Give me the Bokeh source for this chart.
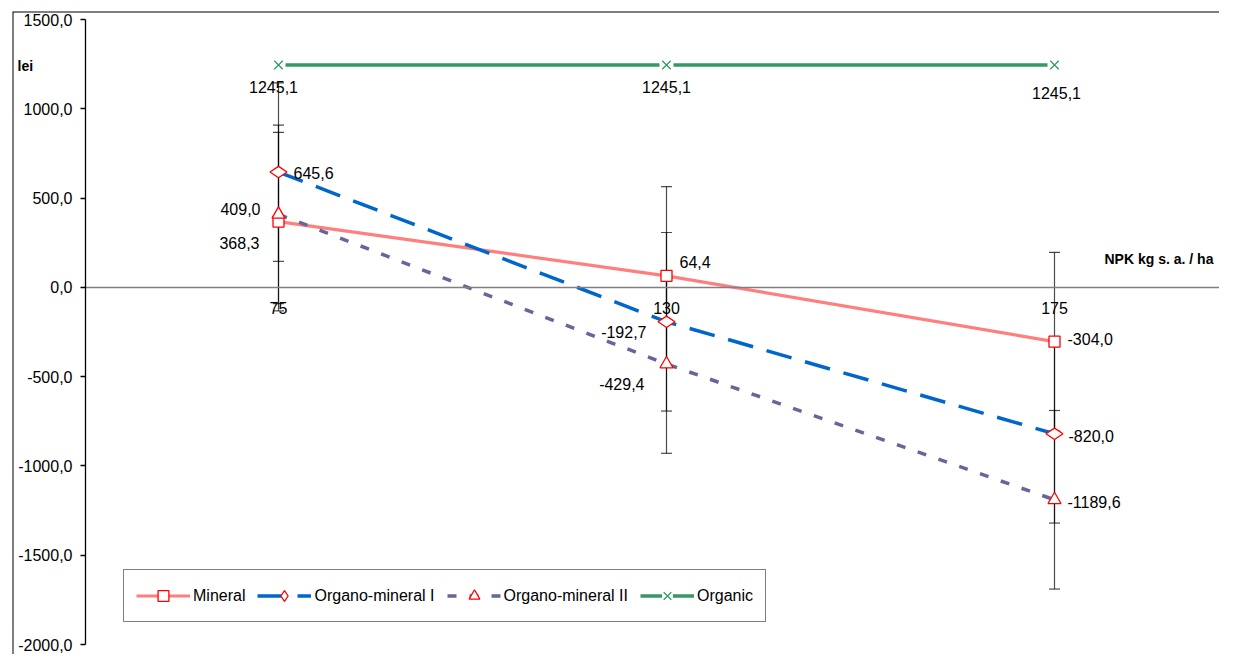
from bokeh.plotting import figure
from bokeh.models import (ColumnDataSource, Range1d, LinearAxis, FixedTicker, Span,
                          Legend, LegendItem, Whisker, TeeHead, Label)
from bokeh.core.properties import value
from bokeh.embed import file_html
from bokeh.resources import INLINE

# ---------------- data ----------------
categories = ["75", "130", "175"]
mineral = [368.3, 64.4, -304.0]
organo_mineral_1 = [645.6, -192.7, -820.0]
organo_mineral_2 = [409.0, -429.4, -1189.6]
organic = [1245.1, 1245.1, 1245.1]
error_mineral = [500.0, 500.0, 500.0]
error_om1 = [500.0, 500.0, 500.0]
error_om2 = [500.0, 500.0, 500.0]
y_ticks = [-2000, -1500, -1000, -500, 0, 500, 1000, 1500]
y_tick_labels = ["-2000,0", "-1500,0", "-1000,0", "-500,0", "0,0", "500,0", "1000,0", "1500,0"]
x_title = "NPK kg s. a. / ha"
y_title = "lei"
series_names = ["Mineral", "Organo-mineral I", "Organo-mineral II", "Organic"]

# ---------------- layout constants ----------------
FONT = "Liberation Sans"
W, H = 1219, 654
BORDER_L, BORDER_T = 12, 11
CAT_PX = 388.0                       # px per category
TOP_TICK_Y, BOTTOM_TICK_Y = 19.0, 644.0
PX_PER_UNIT = (BOTTOM_TICK_Y - TOP_TICK_Y) / (max(y_ticks) - min(y_ticks))
frame_w = W - BORDER_L
frame_h = H - BORDER_T
first_cat_px = 278.0 - BORDER_L      # first category centre, from frame left
top_val_px = TOP_TICK_Y - BORDER_T   # top tick, px below frame top

x_start = -first_cat_px / CAT_PX
x_end = x_start + frame_w / CAT_PX
y_end = max(y_ticks) + top_val_px / PX_PER_UNIT
y_start = y_end - frame_h / PX_PER_UNIT
yaxis_pos = x_start + (85.0 - BORDER_L) / CAT_PX

xs = list(range(len(categories)))

p = figure(width=W, height=H, x_range=Range1d(x_start, x_end), y_range=Range1d(y_start, y_end),
           toolbar_location=None, output_backend="svg",
           x_axis_location=None, y_axis_location=None,
           min_border_left=BORDER_L, min_border_top=BORDER_T,
           min_border_right=0, min_border_bottom=0,
           outline_line_color=None, background_fill_color="white",
           border_fill_color="white")
p.grid.grid_line_color = None

# outer border (left & top)
p.add_layout(Span(location=x_start, dimension="height", line_color="black", line_width=2))
p.add_layout(Span(location=y_end, dimension="width", line_color="black", line_width=2))

# axes
yaxis = LinearAxis(fixed_location=yaxis_pos, bounds=(min(y_ticks), max(y_ticks)),
                   ticker=FixedTicker(ticks=y_ticks),
                   major_label_overrides={t: l for t, l in zip(y_ticks, y_tick_labels)},
                   major_tick_out=5, major_tick_in=0, minor_tick_out=0, minor_tick_in=0,
                   axis_line_color="black", axis_line_width=1.3, major_tick_line_width=1.3,
                   major_label_standoff=8,
                   major_label_text_font=FONT, major_label_text_font_size="16px",
                   major_label_text_color="black")
p.add_layout(yaxis, "left")

xaxis = LinearAxis(fixed_location=0, bounds=(yaxis_pos, x_end),
                   ticker=FixedTicker(ticks=xs),
                   major_label_overrides={i: c for i, c in zip(xs, categories)},
                   major_tick_out=0, major_tick_in=0, minor_tick_out=0, minor_tick_in=0,
                   axis_line_color="#808080", axis_line_width=1.5,
                   major_label_standoff=15,
                   major_label_text_font=FONT, major_label_text_font_size="16px",
                   major_label_text_color="black")
p.add_layout(xaxis, "below")

# ---------------- series ----------------
src = ColumnDataSource(dict(x=xs, mineral=mineral, om1=organo_mineral_1,
                            om2=organo_mineral_2, organic=organic))

l_min = p.line("x", "mineral", source=src, line_color="#FF7F7F", line_width=3.2)
l_om1 = p.line("x", "om1", source=src, line_color="#0066CC", line_width=3.5, line_dash="26 14")
l_om2 = p.line("x", "om2", source=src, line_color="#666699", line_width=3.5, line_dash="9 13")
l_org = p.line("x", "organic", source=src, line_color="#339966", line_width=3.5)

m_min = p.scatter("x", "mineral", source=src, marker="square", size=11,
                  line_color="#FF0000", fill_color="white", line_width=1.3)
m_om1 = p.scatter("x", "om1", source=src, marker="diamond", size=17, angle=1.5708,
                  line_color="#FF0000", fill_color="white", line_width=1.3)
m_om2 = p.scatter("x", "om2", source=src, marker="triangle", size=13,
                  line_color="#FF0000", fill_color="white", line_width=1.3)
m_org_bg = p.scatter("x", "organic", source=src, marker="square", size=14,
                     line_color=None, fill_color="white")
m_org = p.scatter("x", "organic", source=src, marker="x", size=12,
                  line_color="#339966", line_width=1.3)

# error bars
for vals, errs in [(mineral, error_mineral), (organo_mineral_1, error_om1), (organo_mineral_2, error_om2)]:
    es = ColumnDataSource(dict(x=xs, upper=[v + e for v, e in zip(vals, errs)],
                               lower=[v - e for v, e in zip(vals, errs)]))
    w = Whisker(base="x", upper="upper", lower="lower", source=es, dimension="height",
                line_color="black", line_alpha=0.7, line_width=1.2,
                upper_head=TeeHead(size=11, line_color="black", line_alpha=0.7, line_width=1.2),
                lower_head=TeeHead(size=11, line_color="black", line_alpha=0.7, line_width=1.2))
    p.add_layout(w)

# data labels (styling: offsets / alignment per point)
def fmt(v):
    return f"{v:.1f}".replace(".", ",")

label_style = {
    "organic": dict(dx=[-5, 0, 2], dy=[22, 22, 28], align=["center", "center", "center"]),
    "om1": dict(dx=[15, -20, 14], dy=[1, 10, 2], align=["left", "right", "left"]),
    "om2": dict(dx=[-18, -22, 13], dy=[-5, 20, 2], align=["right", "right", "left"]),
    "mineral": dict(dx=[-19, 13, 13], dy=[21, -14, -3], align=["right", "left", "left"]),
}
series_vals = {"organic": organic, "om1": organo_mineral_1, "om2": organo_mineral_2, "mineral": mineral}
for key, vals in series_vals.items():
    st = label_style[key]
    ls = ColumnDataSource(dict(x=xs, y=vals, t=[fmt(v) for v in vals],
                               dx=st["dx"], dy=st["dy"], al=st["align"]))
    p.text("x", "y", text="t", source=ls, x_offset="dx", y_offset="dy", text_align="al",
           text_baseline="middle", text_font=value(FONT), text_font_size="16px",
           text_color="black")

# axis titles (screen units from frame bottom-left)
p.add_layout(Label(x=17 - BORDER_L, y=H - 65, x_units="screen", y_units="screen", text=y_title,
                   text_font=FONT, text_font_size="14px", text_font_style="bold",
                   text_baseline="middle", text_color="black"))
p.add_layout(Label(x=1104 - BORDER_L, y=H - 258, x_units="screen", y_units="screen", text=x_title,
                   text_font=FONT, text_font_size="14px", text_font_style="bold",
                   text_baseline="middle", text_color="black"))

# legend
legend = Legend(items=[
    LegendItem(label=series_names[0], renderers=[l_min, m_min]),
    LegendItem(label=series_names[1], renderers=[l_om1, m_om1]),
    LegendItem(label=series_names[2], renderers=[l_om2, m_om2]),
    LegendItem(label=series_names[3], renderers=[l_org, m_org_bg, m_org]),
], orientation="horizontal", location=(123 - BORDER_L, H - 622), glyph_width=54, glyph_height=27,
    label_height=27, label_standoff=3, spacing=12, padding=12, margin=0,
    border_line_color="black", border_line_width=1, background_fill_color="white",
    background_fill_alpha=1, label_text_font=FONT, label_text_font_size="16px",
    label_text_color="black")
p.add_layout(legend, "center")

open("out.html", "w").write(file_html(p, INLINE))
